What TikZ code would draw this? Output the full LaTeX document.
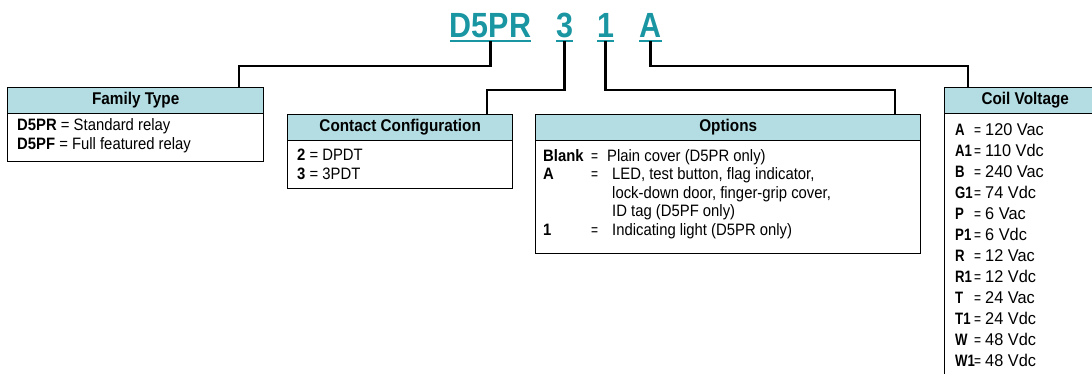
\documentclass[tikz,border=0pt]{standalone}
\usepackage{fontspec}
\setmainfont{Liberation Sans}
\newfontfamily\titlefont{Liberation Sans}[FakeStretch=0.87]
\newfontfamily\hdrfont{Liberation Sans}[FakeStretch=0.9]
\newfontfamily\bodyfont{Liberation Sans}[FakeStretch=0.9]
\newfontfamily\keyfont{Liberation Sans}[FakeStretch=0.8]
\newfontfamily\coilfont{Liberation Sans}[FakeStretch=0.96]
\newfontfamily\eqfont{Liberation Sans}[FakeStretch=0.75]
\definecolor{titleteal}{HTML}{1A96A3}
\definecolor{hdrblue}{HTML}{B3DDE2}
\begin{document}
\begin{tikzpicture}[x=1pt,y=-1pt,
  conn/.style={line width=2.6pt, line join=miter},
  hdr/.style={draw, line width=1.4pt, fill=hdrblue, anchor=north west, inner sep=0pt,
    minimum height=26pt, font=\hdrfont\bfseries\fontsize{17}{17}\selectfont,
    text height=12pt, text depth=3.5pt},
  bodybox/.style={draw, line width=1.4pt, anchor=north west, inner sep=0pt},
  row/.style={anchor=base west, inner sep=0pt, font=\bodyfont\fontsize{16.5}{16.5}\selectfont},
  eqs/.style={anchor=base west, inner sep=0pt, font=\eqfont\fontsize{16}{16}\selectfont},
  ckey/.style={anchor=base west, inner sep=0pt, font=\keyfont\bfseries\fontsize{16.5}{16.5}\selectfont},
  cval/.style={anchor=base west, inner sep=0pt, font=\coilfont\fontsize{17}{17}\selectfont},
  ttl/.style={anchor=base, inner xsep=0pt, inner ysep=3pt, text depth=0pt,
    font=\titlefont\bfseries\fontsize{35}{35}\selectfont, text=titleteal},
  uline/.style={titleteal, line width=2pt}
]
\useasboundingbox (0,0) rectangle (1092,373);
\clip (0,0) rectangle (1092,373);

% title
\node[ttl] (t1) at (490.5,37.7) {D5PR};
\node[ttl] (t2) at (564.5,37.7) {3};
\node[ttl] (t3) at (605.5,37.7) {1};
\node[ttl] (t4) at (650.5,37.7) {A};
\foreach \t in {t1,t2,t3,t4} \draw[uline] (\t.south west) -- (\t.south east);

% Family Type
\node[hdr, minimum width=256pt] (ftH) at (7,87) {Family Type};
\node[bodybox, minimum width=256pt, minimum height=48pt] (ftB) at (7,113) {};
\node[row] (ft1) at (17,130.7) {\bfseries D5PR\mdseries{} = Standard relay};
\node[row] (ft2) at (17,149.7) {\bfseries D5PF\mdseries{} = Full featured relay};

% Contact Configuration
\node[hdr, minimum width=225pt] (ccH) at (287,114) {Contact Configuration};
\node[bodybox, minimum width=225pt, minimum height=48pt] (ccB) at (287,140) {};
\node[row] (cc1) at (297,160) {\bfseries 2\mdseries{} = DPDT};
\node[row] (cc2) at (297,179) {\bfseries 3\mdseries{} = 3PDT};

% Options
\node[hdr, minimum width=385pt] (opH) at (535,114) {Options};
\node[bodybox, minimum width=385pt, minimum height=113pt] (opB) at (535,140) {};
\node[row] (opk1) at (543,161) {\bfseries Blank};
\node[eqs] (ope1) at (591,161) {=};
\node[row] (opv1) at (607,161) {Plain cover (D5PR only)};
\node[row] (opk2) at (543,179.5) {\bfseries A};
\node[eqs] (ope2) at (591,179.5) {=};
\node[row] (opv2) at (612,179.5) {LED, test button, flag indicator,};
\node[row] (opv3) at (612,198) {lock-down door, finger-grip cover,};
\node[row] (opv4) at (612,216.5) {ID tag (D5PF only)};
\node[row] (opk5) at (543,235) {\bfseries 1};
\node[eqs] (ope5) at (591,235) {=};
\node[row] (opv5) at (612,235) {Indicating light (D5PR only)};

% Coil Voltage
\node[hdr, minimum width=161pt] (cvH) at (944,87) {Coil Voltage};
\node[bodybox, minimum width=161pt, minimum height=300pt] (cvB) at (944,113) {};
\foreach \k/\v [count=\i from 0] in {A/120 Vac, A1/110 Vdc, B/240 Vac, G1/74 Vdc,
   P/6 Vac, P1/6 Vdc, R/12 Vac, R1/12 Vdc, T/24 Vac, T1/24 Vdc, W/48 Vdc, W1/48 Vdc}{
  \node[ckey] (cvk\i) at (955,{135+21*\i}) {\k};
  \node[eqs] (cve\i) at (974,{135+21*\i}) {=};
  \node[cval] (cvv\i) at (985,{135+21*\i}) {\v};
}

% connectors
\coordinate (ftin) at (239,87);
\coordinate (ccin) at (487,114);
\coordinate (opin) at (895,114);
\coordinate (cvin) at (968,87);
\draw[conn] (t1.south) -- (t1.south |- 0,66) -| (ftin);
\draw[conn] (t2.south) -- (t2.south |- 0,90) -| (ccin);
\draw[conn] (t3.south) -- (t3.south |- 0,90) -| (opin);
\draw[conn] (t4.south) -- (t4.south |- 0,66) -| (cvin);
\end{tikzpicture}
\end{document}
